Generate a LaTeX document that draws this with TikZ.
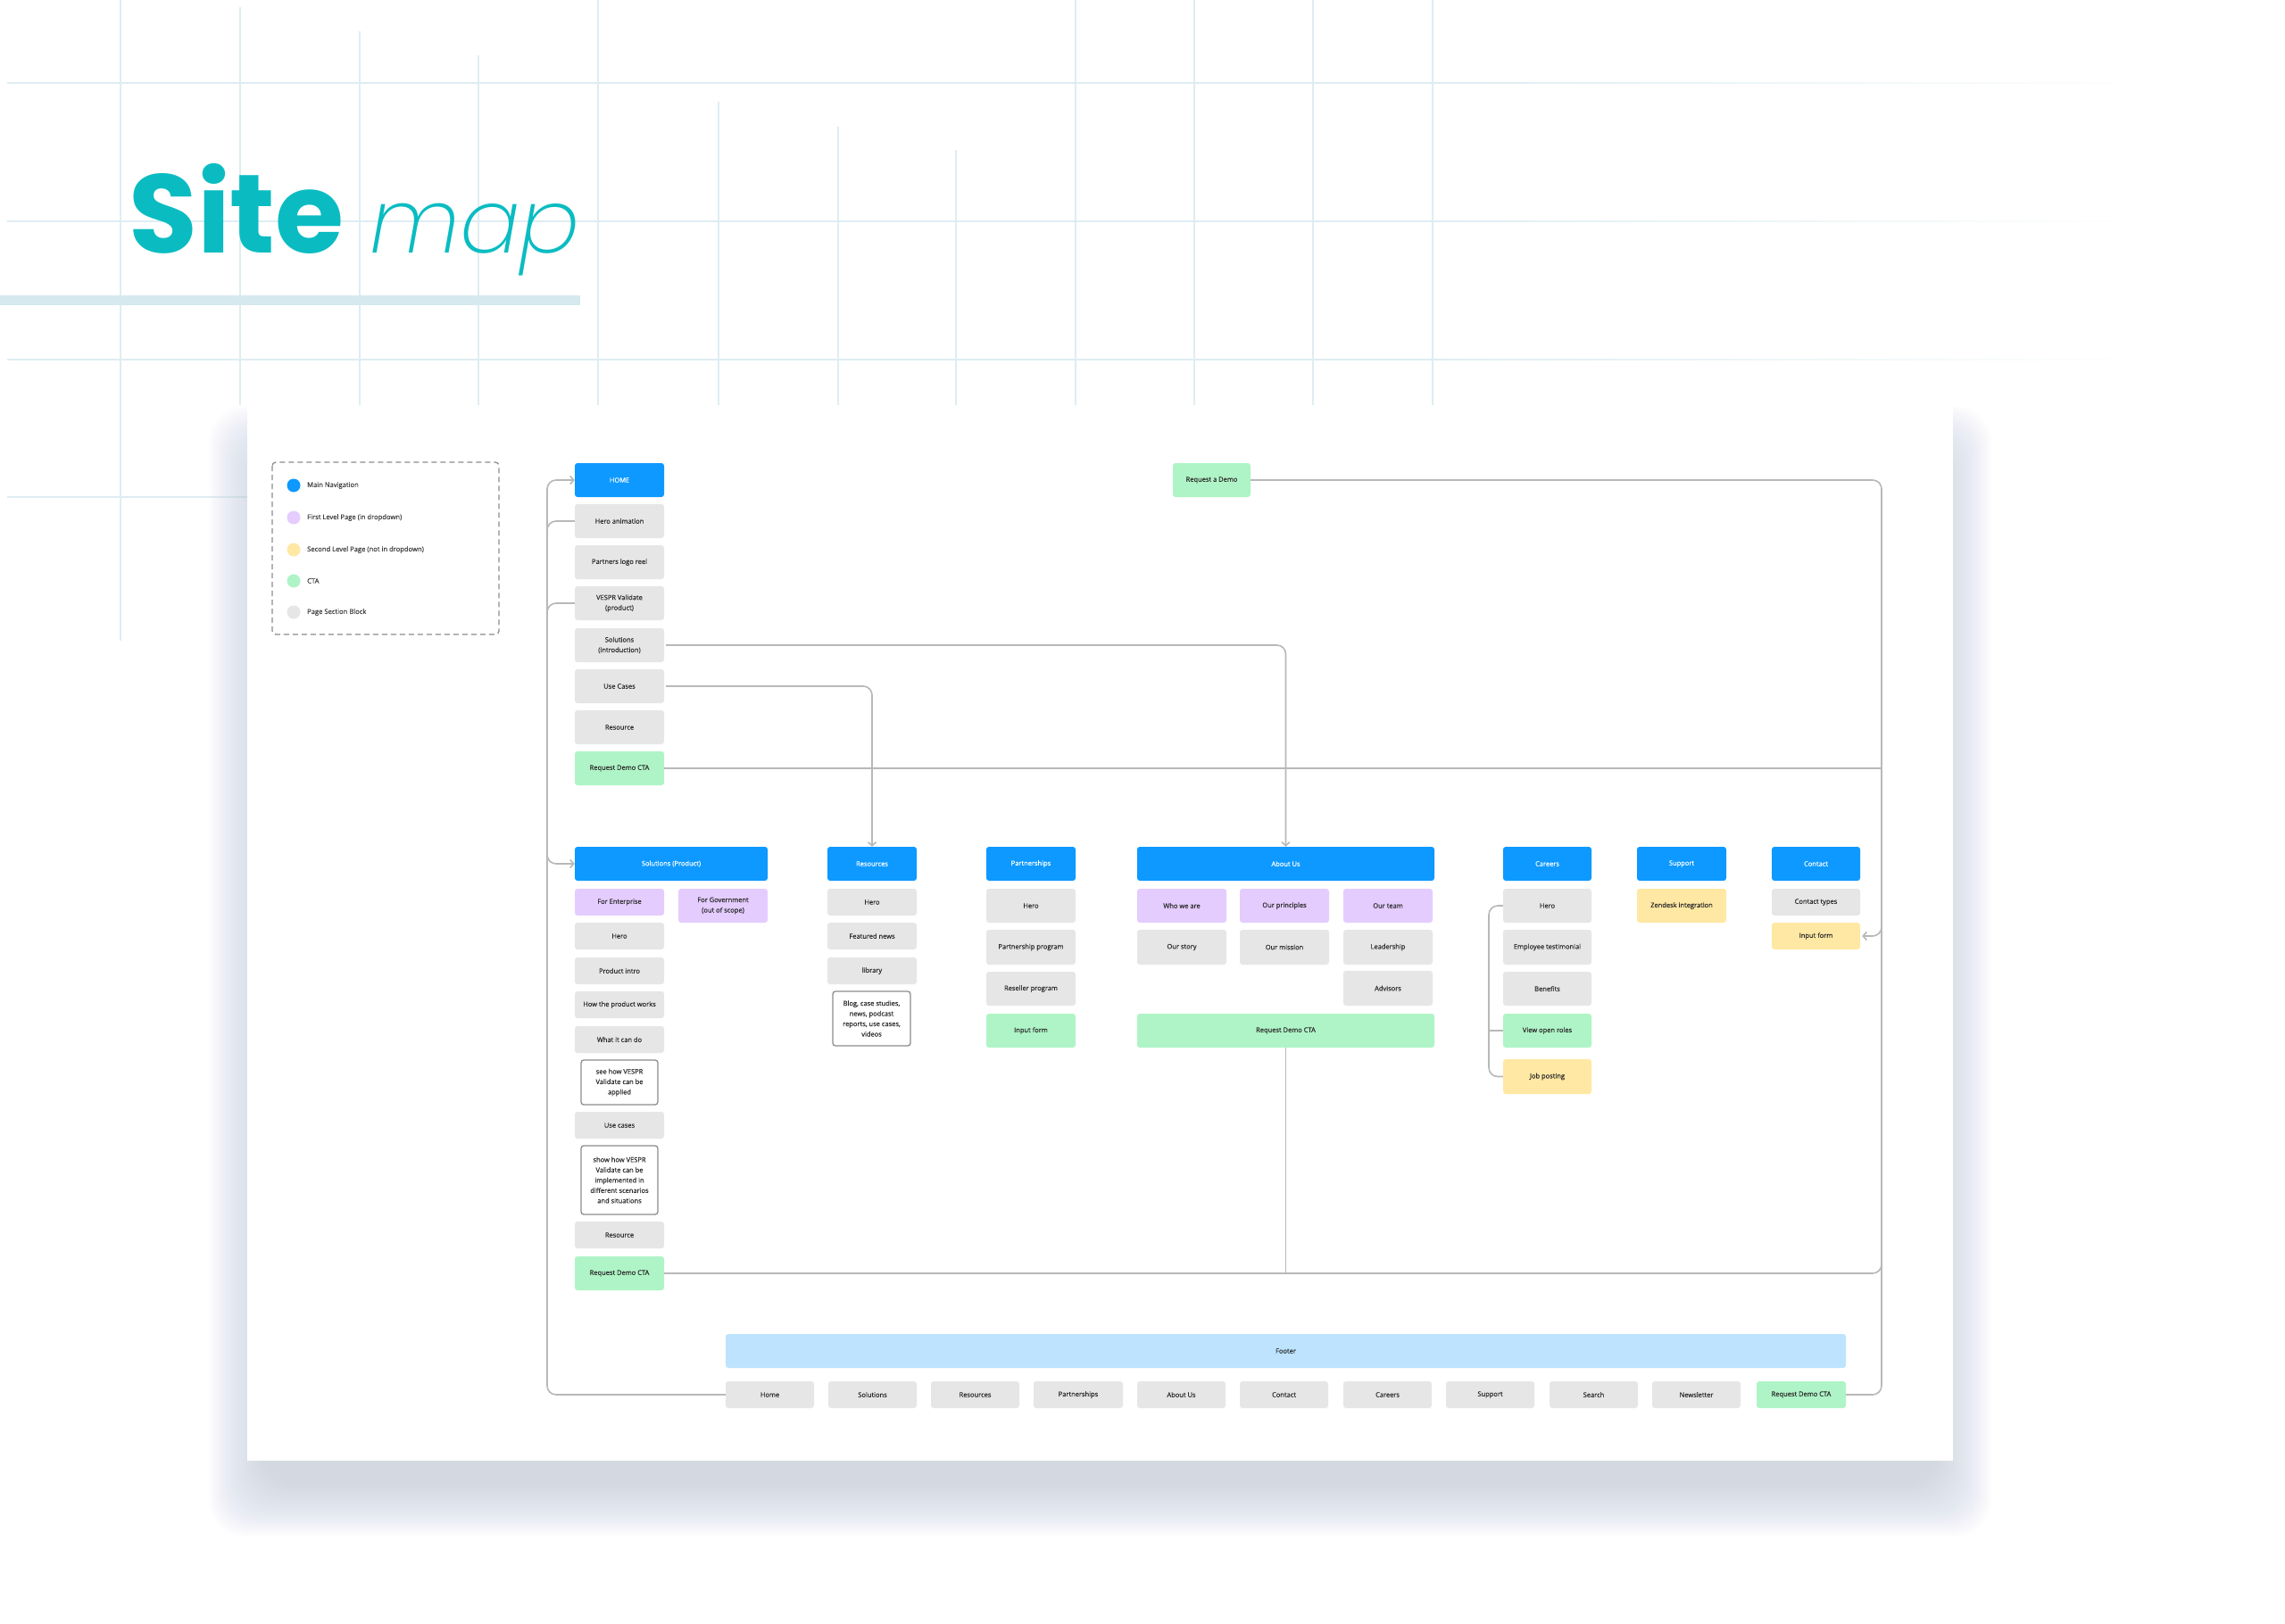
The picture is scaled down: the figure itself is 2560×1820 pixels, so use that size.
\documentclass[tikz,border=0pt]{standalone}
\usepackage{fontspec}
\IfFontExistsTF{Open Sans Medium}{\setmainfont{Open Sans Medium}}{%
 \IfFontExistsTF{Noto Sans Medium}{\setmainfont{Noto Sans Medium}}{\setmainfont{Open Sans}[FakeBold=0.4]}}
\IfFontExistsTF{Poppins Bold}{\newfontfamily\sitefont{Poppins Bold}}{\newfontfamily\sitefont{Liberation Sans Bold}}
\IfFontExistsTF{Poppins ExtraLight Italic}{\newfontfamily\mapfont{Poppins ExtraLight Italic}}{%
 \IfFontExistsTF{Poppins Light Italic}{\newfontfamily\mapfont{Poppins Light Italic}}{%
  \IfFontExistsTF{Poppins Thin Italic}{\newfontfamily\mapfont{Poppins Thin Italic}}{%
   \IfFontExistsTF{Poppins Italic}{\newfontfamily\mapfont{Poppins Italic}}{\newfontfamily\mapfont{Liberation Sans}[FakeSlant=0.2]}}}}
\usetikzlibrary{arrows.meta}
\definecolor{navblue}{HTML}{0D99FF}
\definecolor{lav}{HTML}{E4CCFF}
\definecolor{yel}{HTML}{FFE8A3}
\definecolor{grn}{HTML}{AFF4C6}
\definecolor{secg}{HTML}{E6E6E6}
\definecolor{footc}{HTML}{BDE3FF}
\definecolor{connc}{HTML}{B8B8B8}
\definecolor{txtc}{HTML}{2B2B2B}
\definecolor{titleteal}{HTML}{0ABCC2}
\definecolor{gridc}{HTML}{DEEDF2}
\definecolor{barc}{HTML}{D5E9EF}
\definecolor{shadowc}{HTML}{909AB2}
\tikzset{
  sbox/.style={rectangle, rounded corners=3pt, inner sep=1pt, align=center,
    font=\fontsize{7.5}{11.5}\selectfont, text=txtc},
  bnav/.style={sbox, fill=navblue, text=white},
  bsec/.style={sbox, fill=secg},
  bone/.style={sbox, fill=lav},
  btwo/.style={sbox, fill=yel},
  bcta/.style={sbox, fill=grn},
  bnote/.style={sbox, fill=white, draw=black!45, line width=1.3pt},
  bfoot/.style={sbox, fill=footc},
  connline/.style={draw=connc, line width=1.6pt, rounded corners=10pt},
  arr/.style={-{Straight Barb[length=4pt,width=9pt]}},
  gridline/.style={draw=gridc, line width=1.5pt},
  legtext/.style={anchor=west, inner sep=0, font=\fontsize{7.6}{9}\selectfont, text=black!75},
  legdot/.style={circle, inner sep=0, minimum size=15pt}
}
\newcommand{\bx}[7]{\node[#6, minimum width={#4-#2}, minimum height={#5-#3}] (#1) at ({(#2+#4)/2},{(#3+#5)/2}) {#7};}
\begin{document}
\begin{tikzpicture}[x=1pt,y=-1pt]
\useasboundingbox (0,0) rectangle (2560,1820);
\fill[white] (0,0) rectangle (2560,1820);
% grid
\foreach \gx/\gt/\gb in {135/0/718,269/8/454,403/35/454,536/62/454,670/0/454,805/114/454,939/142/454,1071/168/454,1205/0/454,1338/0/454,1471/0/454,1605/0/454}
  \draw[gridline] (\gx,\gt) -- (\gx,\gb);
\foreach \gy in {93,248,403}{
  \draw[gridline] (8,\gy) -- (1600,\gy);
  \shade[left color=gridc, right color=white] (1600,{\gy-0.75}) rectangle (2430,{\gy+0.75});
}
\draw[gridline] (8,557) -- (277,557);
% title
\fill[barc] (0,331) rectangle (650,342);
\node[anchor=base west, inner sep=0, text=titleteal, font=\sitefont\fontsize{125}{125}\selectfont] (site) at (144,283) {Site};
\node[anchor=base west, inner sep=0, text=titleteal, font=\mapfont\fontsize{100}{100}\selectfont] (map) at (414,283) {map};
% card shadow and card
\foreach \i in {1,...,30}
  \fill[shadowc, opacity=0.011, rounded corners=40pt] ({294-2*\i},{515-2*\i}) rectangle ({2171+2*\i},{1662+2*\i});
\fill[white] (277,454) rectangle (2188,1637);
% legend
\draw[black!45, line width=1.3pt, dash pattern=on 6pt off 4pt, rounded corners=4pt] (305,518) rectangle (559,711);
\node[legdot, fill=navblue] (ld1) at (329,544) {};
\node[legdot, fill=lav] (ld2) at (329,580) {};
\node[legdot, fill=yel] (ld3) at (329,616) {};
\node[legdot, fill=grn] (ld4) at (329,651) {};
\node[legdot, fill=secg] (ld5) at (329,686) {};
\node[legtext] (lt1) at (344,544) {Main Navigation};
\node[legtext] (lt2) at (344,580) {First Level Page (in dropdown)};
\node[legtext] (lt3) at (344,616) {Second Level Page (not in dropdown)};
\node[legtext] (lt4) at (344,651) {CTA};
\node[legtext] (lt5) at (344,686) {Page Section Block};
% home column
\bx{home}{644}{519}{744}{557}{bnav}{HOME}
\bx{heroanim}{644}{565}{744}{603}{bsec}{Hero animation}
\bx{partners}{644}{611}{744}{649}{bsec}{Partners logo reel}
\bx{vespr}{644}{657}{744}{695}{bsec}{VESPR Validate\\(product)}
\bx{solintro}{644}{704}{744}{742}{bsec}{Solutions\\(introduction)}
\bx{usecases}{644}{750}{744}{788}{bsec}{Use Cases}
\bx{resource}{644}{796}{744}{834}{bsec}{Resource}
\bx{homecta}{644}{842}{744}{880}{bcta}{Request Demo CTA}
\bx{reqdemo}{1314}{519}{1401}{557}{bcta}{Request a Demo}
% solutions
\bx{solprod}{644}{949}{860}{987}{bnav}{Solutions (Product)}
\bx{enterprise}{644}{996}{744}{1026}{bone}{For Enterprise}
\bx{government}{760}{996}{860}{1034}{bone}{For Government\\(out of scope)}
\bx{shero}{644}{1034}{744}{1064}{bsec}{Hero}
\bx{prodintro}{644}{1073}{744}{1103}{bsec}{Product intro}
\bx{howworks}{644}{1111}{744}{1141}{bsec}{How the product works}
\bx{whatdo}{644}{1150}{744}{1180}{bsec}{What it can do}
\bx{noteone}{651}{1188}{737}{1238}{bnote}{see how VESPR\\Validate can be\\applied}
\bx{usecasestwo}{644}{1246}{744}{1276}{bsec}{Use cases}
\bx{notetwo}{651}{1284}{737}{1361}{bnote}{show how VESPR\\Validate can be\\implemented in\\different scenarios\\and situations}
\bx{sresource}{644}{1369}{744}{1399}{bsec}{Resource}
\bx{solcta}{644}{1408}{744}{1446}{bcta}{Request Demo CTA}
% resources
\bx{resources}{927}{949}{1027}{987}{bnav}{Resources}
\bx{rhero}{927}{996}{1027}{1026}{bsec}{Hero}
\bx{featured}{927}{1034}{1027}{1064}{bsec}{Featured news}
\bx{library}{927}{1073}{1027}{1103}{bsec}{library}
\bx{notethree}{933}{1111}{1020}{1172}{bnote}{Blog, case studies,\\news, podcast\\reports, use cases,\\videos}
% partnerships
\bx{partnerships}{1105}{949}{1205}{987}{bnav}{Partnerships}
\bx{phero}{1105}{996}{1205}{1034}{bsec}{Hero}
\bx{pprog}{1105}{1042}{1205}{1081}{bsec}{Partnership program}
\bx{reseller}{1105}{1089}{1205}{1127}{bsec}{Reseller program}
\bx{pinput}{1105}{1136}{1205}{1174}{bcta}{Input form}
% about
\bx{about}{1274}{949}{1607}{987}{bnav}{About Us}
\bx{who}{1274}{996}{1374}{1034}{bone}{Who we are}
\bx{principles}{1389}{996}{1489}{1034}{bone}{Our principles}
\bx{team}{1505}{996}{1605}{1034}{bone}{Our team}
\bx{story}{1274}{1042}{1374}{1081}{bsec}{Our story}
\bx{mission}{1389}{1042}{1489}{1081}{bsec}{Our mission}
\bx{leadership}{1505}{1042}{1605}{1081}{bsec}{Leadership}
\bx{advisors}{1505}{1088}{1605}{1127}{bsec}{Advisors}
\bx{aboutcta}{1274}{1136}{1607}{1174}{bcta}{Request Demo CTA}
% careers
\bx{careers}{1684}{949}{1783}{987}{bnav}{Careers}
\bx{chero}{1684}{996}{1783}{1034}{bsec}{Hero}
\bx{testimonial}{1684}{1042}{1783}{1081}{bsec}{Employee testimonial}
\bx{benefits}{1684}{1089}{1783}{1127}{bsec}{Benefits}
\bx{openroles}{1684}{1136}{1783}{1174}{bcta}{View open roles}
\bx{jobposting}{1684}{1187}{1783}{1226}{btwo}{Job posting}
% support
\bx{support}{1834}{949}{1934}{987}{bnav}{Support}
\bx{zendesk}{1834}{996}{1934}{1034}{btwo}{Zendesk integration}
% contact
\bx{contact}{1985}{949}{2084}{987}{bnav}{Contact}
\bx{ctypes}{1985}{996}{2084}{1026}{bsec}{Contact types}
\bx{cinput}{1985}{1034}{2084}{1064}{btwo}{Input form}
% footer
\bx{footer}{813}{1495}{2068}{1533}{bfoot}{Footer}
\bx{fhome}{813}{1548}{912}{1578}{bsec}{Home}
\bx{fsol}{928}{1548}{1027}{1578}{bsec}{Solutions}
\bx{fres}{1043}{1548}{1142}{1578}{bsec}{Resources}
\bx{fpart}{1158}{1548}{1258}{1578}{bsec}{Partnerships}
\bx{fabout}{1274}{1548}{1373}{1578}{bsec}{About Us}
\bx{fcontact}{1389}{1548}{1488}{1578}{bsec}{Contact}
\bx{fcareers}{1505}{1548}{1604}{1578}{bsec}{Careers}
\bx{fsupport}{1620}{1548}{1719}{1578}{bsec}{Support}
\bx{fsearch}{1736}{1548}{1835}{1578}{bsec}{Search}
\bx{fnews}{1851}{1548}{1950}{1578}{bsec}{Newsletter}
\bx{fcta}{1968}{1548}{2068}{1578}{bcta}{Request Demo CTA}
% connectors
\coordinate (ltop) at (613,538);
\coordinate (lbot) at (613,1563);
\coordinate (rtop) at (2108,538);
\coordinate (rbot) at (2108,1563);
\coordinate (sbr) at (613,940);
\coordinate (cbr) at (2108,1022);
\coordinate (cbx) at (1668,1000);
\draw[connline, arr] (fhome.west) -- (lbot) -- (ltop) -- (home.west);
\draw[connline] (heroanim.west) -- (heroanim.west -| ltop) -- ++(0,30);
\draw[connline] (vespr.west) -- (vespr.west -| ltop) -- ++(0,30);
\draw[connline, arr] (sbr) -- (sbr |- solprod.west) -- (solprod.west);
\draw[connline, arr, shorten <=2pt] (solintro.east) -| (about.north);
\draw[connline, arr, shorten <=2pt] (usecases.east) -| (resources.north);
\draw[connline] (reqdemo.east) -- (rtop) -- (rbot) -- (fcta.east);
\draw[connline] (homecta.east) -- (homecta.east -| rtop);
\draw[connline] (solcta.east) -- (solcta.east -| rtop) -- ++(0,-25);
\draw[connline] (aboutcta.south) -- (aboutcta.south |- solcta.east);
\draw[connline, arr] (cbr) -- (cbr |- cinput.east) -- ([xshift=2pt]cinput.east);
\draw[connline] (chero.west) -- (chero.west -| cbx) -- (jobposting.west -| cbx) -- (jobposting.west);
\draw[connline] (openroles.west -| cbx) -- (openroles.west);
\end{tikzpicture}
\end{document}
